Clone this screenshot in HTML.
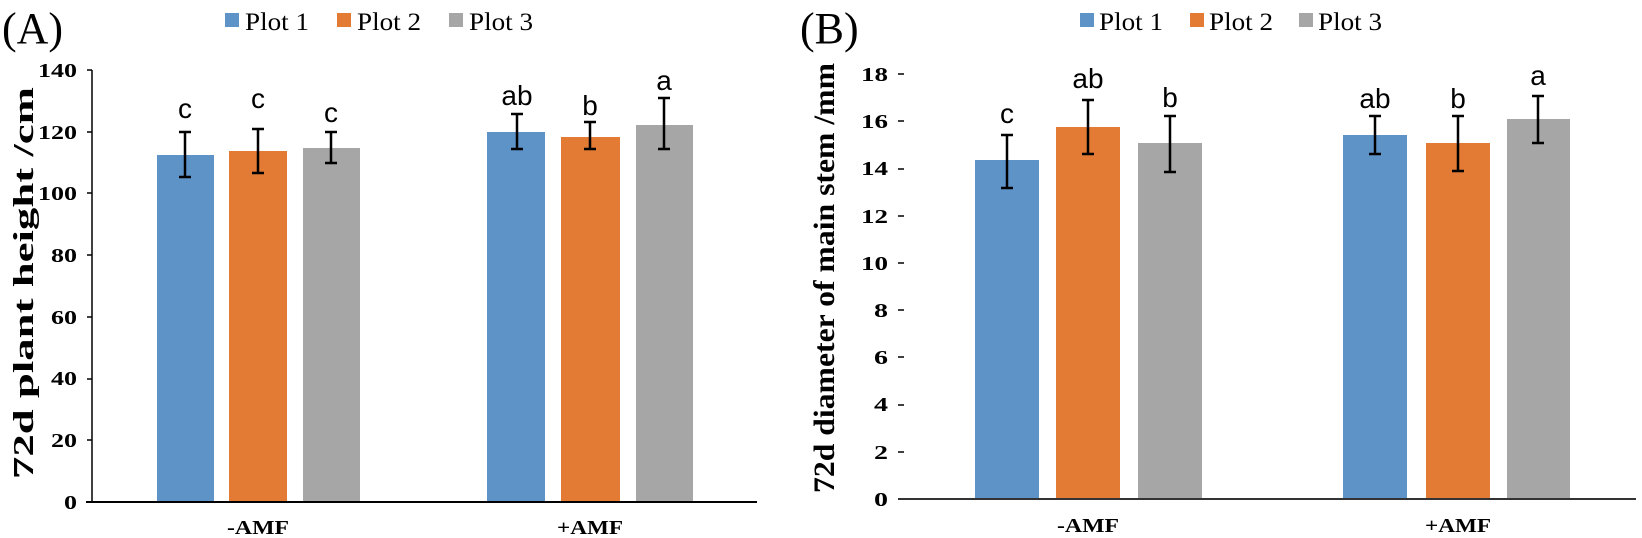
<!DOCTYPE html>
<html><head><meta charset="utf-8"><style>
html,body{margin:0;padding:0;background:#fff;}
svg{display:block;}
.tk{font-family:"Liberation Serif",serif;font-weight:bold;font-size:20px;fill:#000;}
.lt{font-family:"Liberation Sans",sans-serif;font-size:28px;fill:#000;text-anchor:middle;}
.lg{font-family:"Liberation Serif",serif;font-size:25px;fill:#000;}
.ttl{font-family:"Liberation Serif",serif;font-weight:bold;fill:#000;text-anchor:middle;}
</style></head><body>
<svg width="1642" height="538" viewBox="0 0 1642 538" xmlns="http://www.w3.org/2000/svg">
<!-- Panel A -->
<text x="2" y="43" font-family="Liberation Serif, serif" font-size="44">(A)</text>
<rect x="225" y="13" width="14" height="14" fill="#5e93c8"/><text class="lg" x="245" y="30" textLength="64" lengthAdjust="spacingAndGlyphs">Plot 1</text>
<rect x="337" y="13" width="14" height="14" fill="#e37b35"/><text class="lg" x="357" y="30" textLength="64" lengthAdjust="spacingAndGlyphs">Plot 2</text>
<rect x="449" y="13" width="14" height="14" fill="#a6a6a6"/><text class="lg" x="469" y="30" textLength="64" lengthAdjust="spacingAndGlyphs">Plot 3</text>
<text class="ttl" font-size="29" textLength="392" lengthAdjust="spacingAndGlyphs" transform="translate(33,283) rotate(-90)">72d plant height /cm</text>
<g class="tk" text-anchor="end">
<text x="77" y="509" textLength="13" lengthAdjust="spacingAndGlyphs">0</text>
<text x="77" y="447" textLength="26" lengthAdjust="spacingAndGlyphs">20</text>
<text x="77" y="385" textLength="26" lengthAdjust="spacingAndGlyphs">40</text>
<text x="77" y="324" textLength="26" lengthAdjust="spacingAndGlyphs">60</text>
<text x="77" y="262" textLength="26" lengthAdjust="spacingAndGlyphs">80</text>
<text x="77" y="200" textLength="39" lengthAdjust="spacingAndGlyphs">100</text>
<text x="77" y="139" textLength="39" lengthAdjust="spacingAndGlyphs">120</text>
<text x="77" y="77" textLength="39" lengthAdjust="spacingAndGlyphs">140</text>
</g>
<g stroke="#000" stroke-width="1.5">
<line x1="92" y1="70" x2="92" y2="502"/>
<line x1="87" y1="70" x2="92" y2="70"/><line x1="87" y1="132" x2="92" y2="132"/><line x1="87" y1="193" x2="92" y2="193"/>
<line x1="87" y1="255" x2="92" y2="255"/><line x1="87" y1="317" x2="92" y2="317"/><line x1="87" y1="379" x2="92" y2="379"/><line x1="87" y1="440" x2="92" y2="440"/>
</g>
<rect x="157" y="155" width="57" height="347" fill="#5e93c8"/>
<rect x="229" y="151" width="58" height="351" fill="#e37b35"/>
<rect x="303" y="148" width="57" height="354" fill="#a6a6a6"/>
<rect x="487" y="132" width="58" height="370" fill="#5e93c8"/>
<rect x="561" y="137" width="59" height="365" fill="#e37b35"/>
<rect x="636" y="125" width="57" height="377" fill="#a6a6a6"/>
<line x1="86" y1="502" x2="757" y2="502" stroke="#000" stroke-width="2"/>
<g stroke="#000" stroke-width="2.5">
<path d="M185 132V177M179 132H191M179 177H191"/>
<path d="M258 129V173M252 129H264M252 173H264"/>
<path d="M331 132V163M325 132H337M325 163H337"/>
<path d="M517 114V149M511 114H523M511 149H523"/>
<path d="M590 122V149M584 122H596M584 149H596"/>
<path d="M664 98V149M658 98H670M658 149H670"/>
</g>
<text class="lt" x="185" y="118">c</text><text class="lt" x="258" y="108">c</text><text class="lt" x="331" y="122">c</text>
<text class="lt" x="517" y="105">ab</text><text class="lt" x="590" y="115">b</text><text class="lt" x="664" y="90">a</text>
<text class="tk" x="258" y="534" text-anchor="middle" textLength="62" lengthAdjust="spacingAndGlyphs">-AMF</text>
<text class="tk" x="590" y="534" text-anchor="middle" textLength="66" lengthAdjust="spacingAndGlyphs">+AMF</text>

<!-- Panel B -->
<text x="800" y="43" font-family="Liberation Serif, serif" font-size="44">(B)</text>
<rect x="1080" y="13" width="14" height="14" fill="#5e93c8"/><text class="lg" x="1099" y="30" textLength="64" lengthAdjust="spacingAndGlyphs">Plot 1</text>
<rect x="1190" y="13" width="14" height="14" fill="#e37b35"/><text class="lg" x="1209" y="30" textLength="64" lengthAdjust="spacingAndGlyphs">Plot 2</text>
<rect x="1299" y="13" width="14" height="14" fill="#a6a6a6"/><text class="lg" x="1318" y="30" textLength="64" lengthAdjust="spacingAndGlyphs">Plot 3</text>
<text class="ttl" font-size="30" textLength="430" lengthAdjust="spacingAndGlyphs" transform="translate(834,278) rotate(-90)">72d diameter of main stem /mm</text>
<g class="tk" text-anchor="end">
<text x="888" y="506" textLength="14" lengthAdjust="spacingAndGlyphs">0</text>
<text x="888" y="459" textLength="14" lengthAdjust="spacingAndGlyphs">2</text>
<text x="888" y="411" textLength="14" lengthAdjust="spacingAndGlyphs">4</text>
<text x="888" y="364" textLength="14" lengthAdjust="spacingAndGlyphs">6</text>
<text x="888" y="317" textLength="14" lengthAdjust="spacingAndGlyphs">8</text>
<text x="888" y="270" textLength="27" lengthAdjust="spacingAndGlyphs">10</text>
<text x="888" y="223" textLength="27" lengthAdjust="spacingAndGlyphs">12</text>
<text x="888" y="175" textLength="27" lengthAdjust="spacingAndGlyphs">14</text>
<text x="888" y="128" textLength="27" lengthAdjust="spacingAndGlyphs">16</text>
<text x="888" y="81" textLength="27" lengthAdjust="spacingAndGlyphs">18</text>
</g>
<g stroke="#000" stroke-width="1.5">
<line x1="898" y1="452" x2="904" y2="452"/><line x1="898" y1="405" x2="904" y2="405"/><line x1="898" y1="357" x2="904" y2="357"/>
<line x1="898" y1="310" x2="904" y2="310"/><line x1="898" y1="263" x2="904" y2="263"/><line x1="898" y1="216" x2="904" y2="216"/>
<line x1="898" y1="169" x2="904" y2="169"/><line x1="898" y1="121" x2="904" y2="121"/><line x1="898" y1="74" x2="904" y2="74"/>
</g>
<rect x="975" y="160" width="64" height="339" fill="#5e93c8"/>
<rect x="1056" y="127" width="64" height="372" fill="#e37b35"/>
<rect x="1138" y="143" width="64" height="356" fill="#a6a6a6"/>
<rect x="1343" y="135" width="64" height="364" fill="#5e93c8"/>
<rect x="1426" y="143" width="64" height="356" fill="#e37b35"/>
<rect x="1507" y="119" width="63" height="380" fill="#a6a6a6"/>
<line x1="898" y1="499" x2="1636" y2="499" stroke="#333" stroke-width="2"/>
<g stroke="#000" stroke-width="2.5">
<path d="M1007 135V188M1001 135H1013M1001 188H1013"/>
<path d="M1088 100V154M1082 100H1094M1082 154H1094"/>
<path d="M1170 116V172M1164 116H1176M1164 172H1176"/>
<path d="M1375 116V154M1369 116H1381M1369 154H1381"/>
<path d="M1458 116V171M1452 116H1464M1452 171H1464"/>
<path d="M1538 96V143M1532 96H1544M1532 143H1544"/>
</g>
<text class="lt" x="1007" y="123">c</text><text class="lt" x="1088" y="88">ab</text><text class="lt" x="1170" y="107">b</text>
<text class="lt" x="1375" y="108">ab</text><text class="lt" x="1458" y="108">b</text><text class="lt" x="1538" y="85">a</text>
<text class="tk" x="1088" y="532" text-anchor="middle" textLength="62" lengthAdjust="spacingAndGlyphs">-AMF</text>
<text class="tk" x="1458" y="532" text-anchor="middle" textLength="66" lengthAdjust="spacingAndGlyphs">+AMF</text>
</svg>
</body></html>
